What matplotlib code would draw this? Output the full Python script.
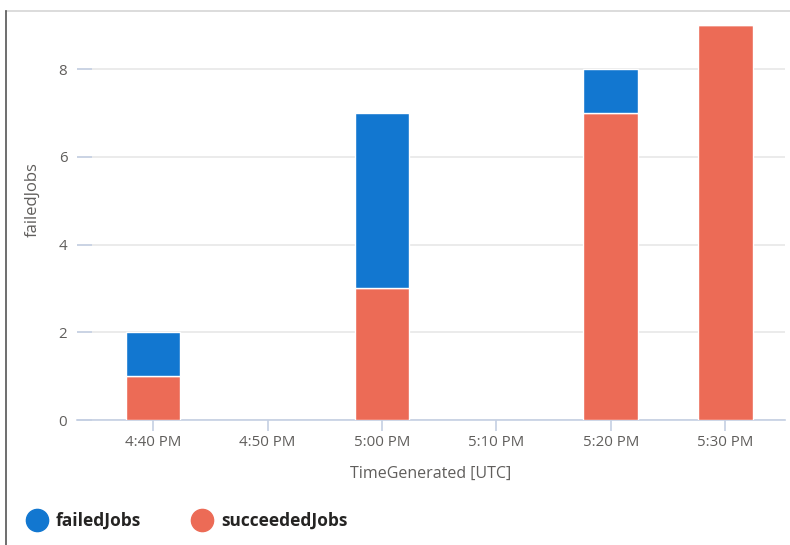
import datetime as dt
from matplotlib import pyplot as plt
from matplotlib.lines import Line2D
import matplotlib.dates as mdates

# data
times = ["16:40", "17:00", "17:20", "17:30"]
succeededJobs = [1, 3, 7, 9]
failedJobs = [1, 4, 1, 0]
tickTimes = ["16:40", "16:50", "17:00", "17:10", "17:20", "17:30"]

day = dt.date(2024, 1, 1)

def toDt(s):
    return dt.datetime.combine(day, dt.datetime.strptime(s, "%H:%M").time())

x = [toDt(t) for t in times]
ticks = [toDt(t) for t in tickTimes]

blue = "#1277d0"
orange = "#ec6b56"
grey = "#605e5c"

plt.rcParams['font.family'] = ['Open Sans', 'DejaVu Sans']

fig = plt.figure(figsize=(7.9, 5.45), dpi=100)
ax = fig.add_axes([77/790, 125/545, (785-77)/790, (420-23)/545])

width = dt.timedelta(minutes=4.8)
ax.bar(x, succeededJobs, width=width, color=orange, edgecolor="white", linewidth=1, zorder=3)
ax.bar(x, failedJobs, width=width, bottom=succeededJobs, color=blue, edgecolor="white",
       linewidth=1, zorder=3)

ax.set_xlim(toDt("16:40") - dt.timedelta(minutes=6.64), toDt("16:40") + dt.timedelta(minutes=55.2))
ax.set_ylim(0, 9.05)
ax.set_yticks([0, 2, 4, 6, 8])
ax.set_xticks(ticks)
ax.xaxis.set_major_formatter(mdates.DateFormatter("%-I:%M %p"))

ax.grid(axis="y", color="#e8e8e8", linewidth=1.2, zorder=0)
for s in ["top", "right", "left"]:
    ax.spines[s].set_visible(False)
ax.spines["bottom"].set_color("#c5d0e3")
ax.spines["bottom"].set_linewidth(1.2)

ax.tick_params(axis="x", direction="out", length=8, width=1.2, color="#c5d0e3",
               labelcolor=grey, labelsize=10.8, pad=3)
ax.tick_params(axis="y", direction="in", length=11, width=1.2, color="#c5d0e3",
               labelcolor=grey, labelsize=10.8, pad=7)

ax.set_xlabel("TimeGenerated [UTC]", color=grey, fontsize=11.5, labelpad=11)
fig.text(33/790, 1 - 200/545, "failedJobs", rotation=90, color=grey, fontsize=12,
         ha="center", va="center")

handles = [
    Line2D([], [], marker="o", linestyle="", markersize=16, color=blue, label="failedJobs"),
    Line2D([], [], marker="o", linestyle="", markersize=16, color=orange, label="succeededJobs"),
]
leg = fig.legend(handles=handles, loc="center left", bbox_to_anchor=(4/790, 1 - 521/545),
                 ncol=2, frameon=False, handletextpad=0.1, columnspacing=2.5,
                 prop={"weight": "bold", "size": 12.5})
for t in leg.get_texts():
    t.set_color("#252423")

# outer frame of the tile
fig.add_artist(Line2D([6/790, 1], [1 - 11/545, 1 - 11/545], color="#d6d6d6", linewidth=1.2))
fig.add_artist(Line2D([6/790, 6/790], [0, 1 - 11/545], color="#555555", linewidth=1.2))

fig.savefig("out.png", dpi=100)
